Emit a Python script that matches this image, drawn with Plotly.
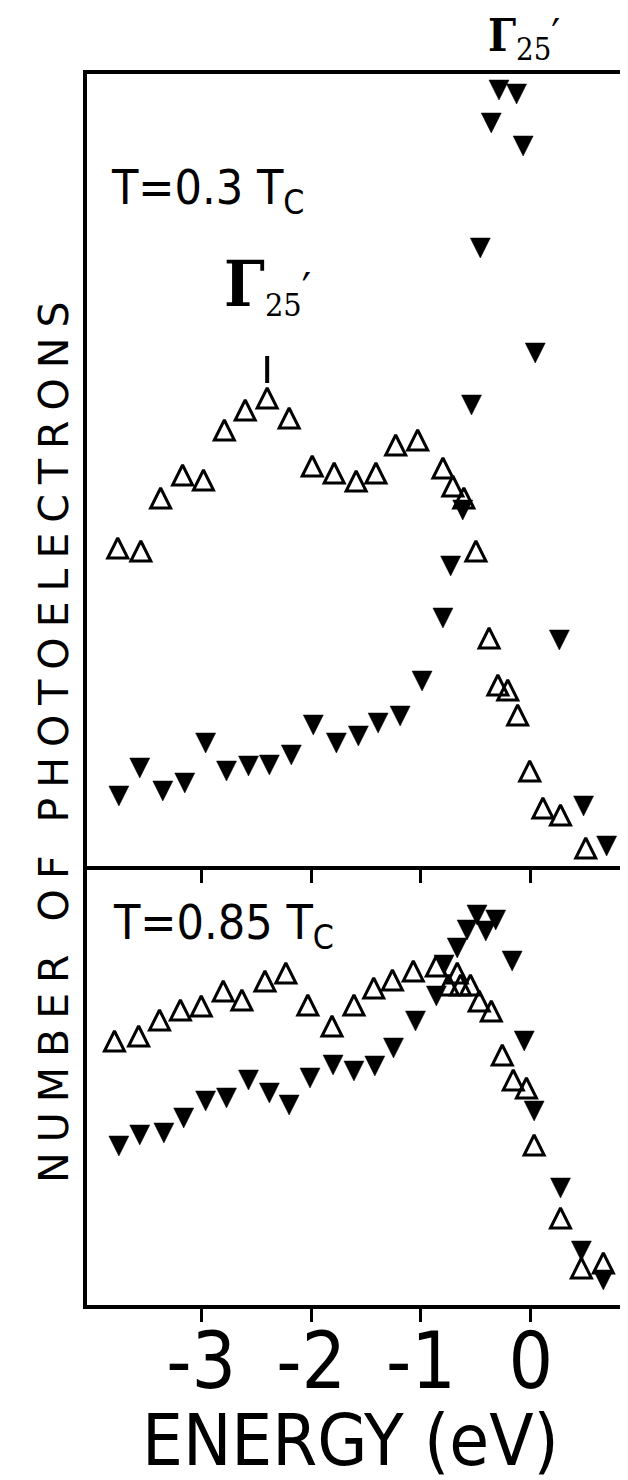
import plotly.graph_objects as go
from plotly.subplots import make_subplots

# ---------------- data (energy in eV, intensity in arbitrary units) ----------------
# T = 0.3 Tc panel
E_open_03 = [-3.76, -3.55, -3.37, -3.17, -2.98, -2.79, -2.60, -2.40, -2.20, -1.99,
             -1.79, -1.59, -1.41, -1.23, -1.03, -0.80, -0.71, -0.61, -0.50, -0.38,
             -0.30, -0.21, -0.12, -0.01, 0.11, 0.27, 0.50]
I_open_03 = [318, 315, 368, 391, 386, 436, 456, 468, 448, 400,
             393, 385, 393, 421, 426, 398, 380, 368, 315, 228,
             181, 176, 151, 95, 58, 51, 18]
E_fill_03 = [-3.75, -3.56, -3.35, -3.15, -2.96, -2.77, -2.57, -2.38, -2.18, -1.98,
             -1.77, -1.57, -1.39, -1.19, -0.99, -0.80, -0.73, -0.62, -0.54, -0.46,
             -0.36, -0.29, -0.13, -0.07, 0.04, 0.26, 0.48, 0.69]
I_fill_03 = [70, 98, 75, 83, 123, 95, 100, 101, 111, 141,
             123, 130, 143, 150, 185, 248, 300, 356, 461, 618,
             743, 776, 772, 720, 513, 226, 60, 20]

# T = 0.85 Tc panel
E_open_085 = [-3.79, -3.57, -3.38, -3.19, -3.00, -2.80, -2.63, -2.42, -2.23, -2.03,
              -1.81, -1.61, -1.43, -1.26, -1.07, -0.86, -0.75, -0.67, -0.64, -0.55,
              -0.47, -0.36, -0.26, -0.16, -0.04, 0.03, 0.27, 0.46, 0.66]
I_open_085 = [264, 269, 285, 295, 299, 314, 305, 324, 332, 300,
              279, 300, 317, 325, 334, 339, 320, 332, 320, 320,
              304, 294, 250, 225, 217, 160, 87, 37, 42]
E_fill_085 = [-3.75, -3.56, -3.34, -3.16, -2.96, -2.77, -2.57, -2.38, -2.20, -2.01,
              -1.80, -1.61, -1.42, -1.25, -1.05, -0.86, -0.79, -0.67, -0.58, -0.49,
              -0.41, -0.32, -0.17, -0.06, 0.03, 0.27, 0.46, 0.66]
I_fill_085 = [159, 170, 172, 187, 204, 207, 225, 212, 200, 227,
              240, 234, 239, 257, 284, 309, 340, 357, 375, 390,
              374, 385, 344, 264, 194, 117, 54, 25]

tick_vals = [-3, -2, -1, 0]
tick_text = ["-3", "-2", "-1", "0"]
x_range = [-4.04, 0.93]
y_range_top = [0, 792]
y_range_bottom = [0, 439]
gamma_peak_E = -2.40

# ---------------- layout geometry ----------------
FW, FH = 628, 1480
L, R, T, B = 79, 3, 66, 183
W, H = FW - L - R, FH - T - B
split = (y_range_bottom[1]) / H


def px(x):
    return (x - L) / W


def py(y):
    return (FH - B - y) / H


fig = make_subplots(rows=2, cols=1, shared_xaxes=True, vertical_spacing=0,
                    row_heights=[1 - split, split])

MS = 20
open_marker = dict(symbol="arrow-down-open", size=MS, angle=180, standoff=MS / 2,
                   color="black", line=dict(width=3, color="black"))
fill_marker = dict(symbol="arrow-down", size=MS, angle=0, standoff=MS / 2,
                   color="black", line=dict(width=0.5, color="black"))

fig.add_trace(go.Scatter(x=E_open_03, y=I_open_03, mode="markers", marker=open_marker,
                         showlegend=False, cliponaxis=False), row=1, col=1)
fig.add_trace(go.Scatter(x=E_fill_03, y=I_fill_03, mode="markers", marker=fill_marker,
                         showlegend=False, cliponaxis=False), row=1, col=1)
fig.add_trace(go.Scatter(x=E_open_085, y=I_open_085, mode="markers", marker=open_marker,
                         showlegend=False, cliponaxis=False), row=2, col=1)
fig.add_trace(go.Scatter(x=E_fill_085, y=I_fill_085, mode="markers", marker=fill_marker,
                         showlegend=False, cliponaxis=False), row=2, col=1)

axis_common = dict(showgrid=False, zeroline=False, linecolor="black", linewidth=4,
                   showline=True, automargin=False)

fig.update_xaxes(range=x_range, tickvals=tick_vals, ticktext=tick_text, ticks="outside",
                 ticklen=13, tickwidth=3, tickcolor="black", **axis_common)
fig.update_xaxes(mirror=True, showticklabels=False, row=1, col=1)
fig.update_xaxes(showticklabels=True, row=2, col=1, ticklabelstandoff=-28,
                 tickfont=dict(family="Liberation Sans Narrow, DejaVu Sans Condensed, sans-serif",
                               size=78, color="black"))
fig.update_yaxes(range=y_range_top, showticklabels=False, ticks="", mirror=True,
                 row=1, col=1, **axis_common)
fig.update_yaxes(range=y_range_bottom, showticklabels=False, ticks="", mirror=False,
                 row=2, col=1, **axis_common)

label_font = dict(family="DejaVu Sans Condensed, DejaVu Sans, sans-serif", size=48, color="black")
gamma_font = dict(family="DejaVu Serif Condensed, DejaVu Serif, serif", color="black")

annotations = [
    dict(text="T=0.3 T<sub>C</sub>", x=px(101), y=py(183), xanchor="left", yanchor="middle",
         font=label_font),
    dict(text="T=0.85 T<sub>C</sub>", x=px(103), y=py(917), xanchor="left", yanchor="middle",
         font=label_font),
    dict(text="<b>Γ</b><sub>25</sub>′", x=px(516), y=py(31), xanchor="center", yanchor="middle",
         font=dict(size=44, **gamma_font)),
    dict(text='<span style="font-size:64px"><b>Γ</b></span><sub>25</sub>′',
         x=px(259), y=py(277), xanchor="center", yanchor="middle",
         font=dict(size=46, **gamma_font)),
    dict(text='<span style="letter-spacing:10px">NUMBER OF PHOTOELECTRONS</span>',
         x=px(46), y=py(730), xanchor="center", yanchor="middle", textangle=-90,
         font=dict(family="DejaVu Sans, sans-serif", size=41, color="black")),
    dict(text="ENERGY (eV)", x=px(342), y=py(1432), xanchor="center", yanchor="middle",
         font=dict(family="DejaVu Sans Condensed, DejaVu Sans, sans-serif", size=72,
                   color="black")),
]
for a in annotations:
    a.update(xref="paper", yref="paper", showarrow=False)

fig.update_layout(
    width=FW, height=FH, margin=dict(l=L, r=R, t=T, b=B, autoexpand=False),
    paper_bgcolor="white", plot_bgcolor="white",
    annotations=annotations,
    shapes=[dict(type="line", xref="x", yref="y", x0=gamma_peak_E, x1=gamma_peak_E,
                 y0=483, y1=510, line=dict(color="black", width=4))],
)

fig.write_html("out.html")
